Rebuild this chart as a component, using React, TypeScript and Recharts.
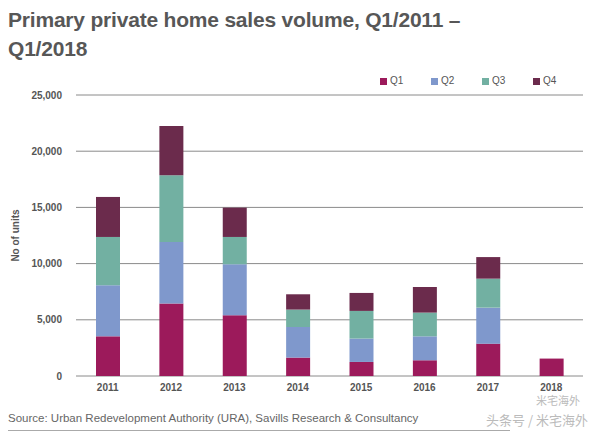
import React from 'react';
import { BarChart, Bar, XAxis, YAxis, CartesianGrid } from 'recharts';

const years = ['2011', '2012', '2013', '2014', '2015', '2016', '2017', '2018'];
const q1 = [3530, 6440, 5400, 1640, 1250, 1400, 2880, 1550];
const q2 = [4540, 5480, 4540, 2720, 2080, 2130, 3200, 0];
const q3 = [4300, 5930, 2430, 1550, 2460, 2110, 2580, 0];
const q4 = [3560, 4390, 2610, 1360, 1600, 2280, 1920, 0];
const yTicks = [0, 5000, 10000, 15000, 20000, 25000];

const seriesNames = ['Q1', 'Q2', 'Q3', 'Q4'];
const seriesColors = ['#9c1a5b', '#7f98cc', '#72b0a2', '#6b2b4c'];

const data = years.map((y, i) => ({ year: y, Q1: q1[i], Q2: q2[i], Q3: q3[i], Q4: q4[i] }));

const font = 'Liberation Sans, Arial, Helvetica, sans-serif';

const LegendBox = () => (
  <div style={{ position: 'absolute', left: 380, top: 74, display: 'flex', fontFamily: font, fontSize: 10, color: '#555', lineHeight: '14px' }}>
    {seriesNames.map((n, i) => (
      <div key={n} style={{ display: 'flex', alignItems: 'center', width: 51 }}>
        <span style={{ display: 'inline-block', width: 7, height: 7, background: seriesColors[i], marginRight: 3 }} />
        <span>{n}</span>
      </div>
    ))}
  </div>
);

export default function App() {
  return (
    <div style={{ position: 'absolute', left: 0, top: 0, width: 602, height: 435, background: '#fff', overflow: 'hidden', fontFamily: font }}>
      <div style={{ position: 'absolute', left: 8, top: 5, fontSize: 21, fontWeight: 'bold', color: '#575757', lineHeight: '29px', letterSpacing: -0.2 }}>
        Primary private home sales volume, Q1/2011 –<br />Q1/2018
      </div>
      <BarChart width={602} height={435} data={data} margin={{ top: 95, right: 19, bottom: 29, left: 16 }}>
        <CartesianGrid vertical={false} stroke="#8a8a8a" strokeWidth={1} />
        <XAxis dataKey="year" axisLine={false} tickLine={false} height={30}
          tick={{ fontSize: 10, fill: '#555', fontWeight: 'bold', fontFamily: font }} />
        <YAxis domain={[0, 25000]} ticks={yTicks} axisLine={false} tickLine={false} width={60} tickMargin={8}
          tickFormatter={(v: number) => v.toLocaleString('en-US')}
          tick={{ fontSize: 10, fill: '#555', fontWeight: 'bold', fontFamily: font }}
          label={{ value: 'No of units', angle: -90, position: 'insideLeft', offset: 0, dx: -1, style: { fontSize: 10, fill: '#555', fontWeight: 'bold', fontFamily: font, textAnchor: 'middle' } }} />
        {seriesNames.map((n, i) => (
          <Bar key={n} dataKey={n} stackId="a" fill={seriesColors[i]} barSize={24} isAnimationActive={false} />
        ))}
      </BarChart>
      <LegendBox />
      <div style={{ position: 'absolute', left: 8, top: 412, fontSize: 11.5, color: '#666' }}>
        Source: Urban Redevelopment Authority (URA), Savills Research &amp; Consultancy
      </div>
      <div style={{ position: 'absolute', left: 8, top: 430, width: 502, height: 1, background: '#aaa' }} />
      <div style={{ position: 'absolute', left: 536, top: 393, fontSize: 11, lineHeight: '14px', color: '#bbb', fontFamily: 'Noto Sans CJK SC' }}>米宅海外</div>
      <div style={{ position: 'absolute', left: 486, top: 411, fontSize: 13, lineHeight: '17px', color: '#bbb', fontFamily: 'Noto Sans CJK SC', whiteSpace: 'nowrap' }}>头条号 / 米宅海外</div>
    </div>
  );
}
